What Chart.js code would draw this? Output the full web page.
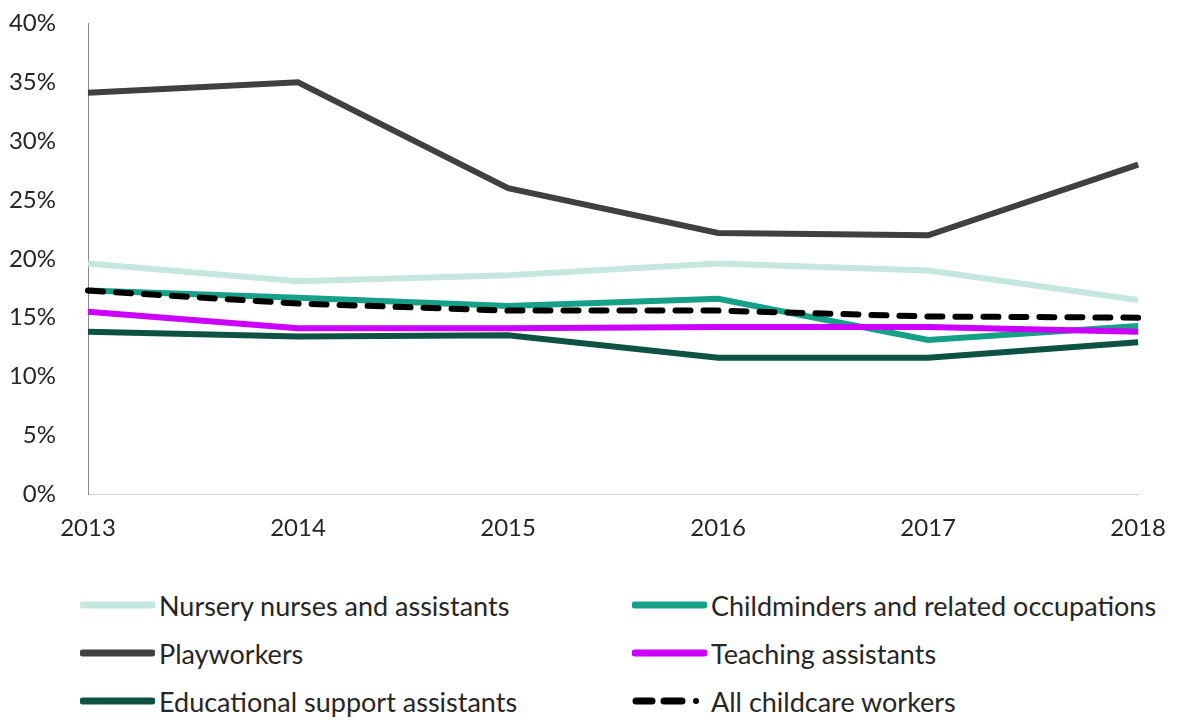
<!DOCTYPE html>
<html>
<head>
<meta charset="utf-8">
<script src="https://cdn.jsdelivr.net/npm/chart.js@4"></script>
<style>
  body { margin: 0; background: #fff; font-family: Lato, sans-serif; }
  #wrap { position: absolute; left: 0; top: -15px; width: 1178px; height: 570px; }
  #legend { position: absolute; left: 80px; top: 588px; display: grid;
            grid-template-columns: 552px 540px; row-gap: 14px; color: #262626; font-size: 27px; }
  .item { display: flex; align-items: center; height: 34px; }
  .item svg { margin-right: 4px; }
</style>
</head>
<body>
<div id="wrap"><canvas id="myChart"></canvas></div>
<div id="legend"></div>
<script>
const years = ['2013', '2014', '2015', '2016', '2017', '2018'];
const nursery = [19.6, 18.1, 18.6, 19.6, 19.0, 16.5];
const childminders = [17.3, 16.7, 16.0, 16.6, 13.1, 14.3];
const playworkers = [34.1, 35.0, 26.0, 22.2, 22.0, 28.0];
const teaching = [15.5, 14.1, 14.1, 14.2, 14.2, 13.8];
const educational = [13.8, 13.4, 13.5, 11.6, 11.6, 12.9];
const allChildcare = [17.3, 16.2, 15.6, 15.6, 15.1, 15.0];

const series = [
    { label: 'Nursery nurses and assistants', data: nursery, color: '#c5e7df', order: 5 },
    { label: 'Childminders and related occupations', data: childminders, color: '#17a088', order: 2 },
    { label: 'Playworkers', data: playworkers, color: '#404040', order: 4 },
    { label: 'Teaching assistants', data: teaching, color: '#cc00ff', order: 1 },
    { label: 'Educational support assistants', data: educational, color: '#0e5243', order: 3 },
    { label: 'All childcare workers', data: allChildcare, color: '#000000', order: 0, dash: true }
];

const ctx = document.getElementById('myChart').getContext('2d');
new Chart(ctx, {
    type: 'line',
    data: {
        labels: years,
        datasets: series.map(s => ({
            label: s.label,
            data: s.data,
            borderColor: s.color,
            backgroundColor: s.color,
            borderWidth: 6,
            borderDash: s.dash ? [15, 13] : [],
            borderCapStyle: s.dash ? 'round' : 'butt',
            pointRadius: 0,
            tension: 0,
            order: s.order
        }))
    },
    options: {
        responsive: true,
        maintainAspectRatio: false,
        animation: false,
        layout: { padding: { top: 0, right: 38, left: 0, bottom: 0 } },
        plugins: { legend: { display: false }, tooltip: { enabled: false } },
        scales: {
            x: {
                offset: false,
                grid: { display: false },
                border: { display: true, color: '#d0d0d0', width: 1 },
                ticks: { color: '#262626', font: { family: 'Lato', size: 24 }, padding: 12, maxRotation: 0 }
            },
            y: {
                min: 0,
                max: 40,
                grid: { display: false },
                border: { display: true, color: '#888888', width: 1 },
                afterFit: scale => { scale.width = 88; },
                ticks: {
                    stepSize: 5,
                    color: '#262626',
                    font: { family: 'Lato', size: 24 },
                    padding: 24,
                    callback: v => v + '%'
                }
            }
        }
    }
});

// legend laid out in two columns like the original
const legend = document.getElementById('legend');
series.forEach(s => {
    const div = document.createElement('div');
    div.className = 'item';
    const line = s.dash
        ? '<line x1="4" y1="6" x2="20" y2="6" stroke="#000" stroke-width="7" stroke-linecap="round"/>' +
          '<line x1="32" y1="6" x2="50" y2="6" stroke="#000" stroke-width="7" stroke-linecap="round"/>' +
          '<circle cx="64" cy="6" r="3" fill="#000"/>'
        : '<line x1="3" y1="6" x2="72" y2="6" stroke="' + s.color + '" stroke-width="7" stroke-linecap="round"/>';
    div.innerHTML = '<svg width="75" height="12">' + line + '</svg><span>' + s.label + '</span>';
    legend.appendChild(div);
});
</script>
</body>
</html>
